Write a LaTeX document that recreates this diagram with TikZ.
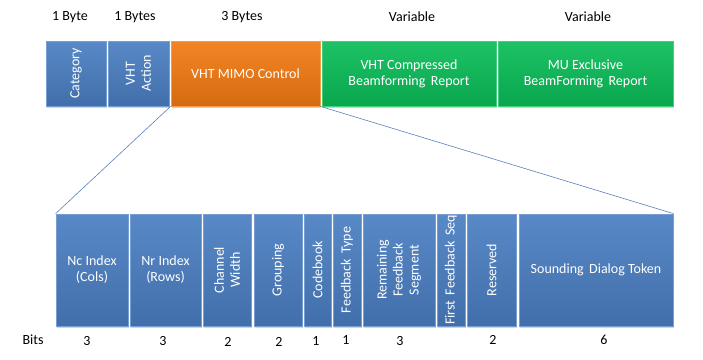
\documentclass[tikz,border=0pt]{standalone}
\usepackage{fontspec}
\setmainfont{Carlito}
\usetikzlibrary{shadows}

\definecolor{fblue}{HTML}{4A7EC2}
\definecolor{forange}{HTML}{F27A12}
\definecolor{fgreen}{HTML}{0ABD58}
\definecolor{linkblue}{HTML}{5A7FB8}

\begin{document}
\begin{tikzpicture}[x=1pt, y=-1pt, font=\fontsize{14}{16}\selectfont,
  field/.style={draw=#1!75!white, line width=0.8pt, inner sep=0pt,
    top color=#1!92!white, bottom color=#1!88!black,
    drop shadow={shadow xshift=1.2pt, shadow yshift=-1.5pt, opacity=0.35},
    text=white, align=center},
  top/.style={minimum height=65pt},
  low/.style={minimum height=112pt},
  vtext/.style={rotate=90, text=white, align=center, inner sep=0pt},
  size/.style={text=black}]
  \useasboundingbox (0,0) rectangle (703,359);

  % top row: action frame
  \node[field=fblue, top, minimum width=60pt] (cat) at (76,73.5) {};
  \node[field=fblue, top, minimum width=61pt] (act) at (138.5,73.5) {};
  \node[field=forange, top, minimum width=149pt] (mimo) at (245.5,73.5) {VHT MIMO Control};
  \node[field=fgreen, top, minimum width=174pt] (cbr) at (409,73.5) {VHT Compressed\\Beamforming\, Report};
  \node[field=fgreen, top, minimum width=175pt] (mur) at (585.5,73.5) {MU Exclusive\\BeamForming\, Report};
  \node[vtext] (catt) at (cat) {Category};
  \node[vtext] (actt) at (act) {VHT\\Action};

  \node[size] (bcat) at (70,17) {1 Byte};
  \node[size] (bact) at (135,17) {1 Bytes};
  \node[size] (bmimo) at (242,17) {3 Bytes};
  \node[size] (bcbr) at (412,17) {Variable};
  \node[size] (bmur) at (588,17) {Variable};

  % bottom row: MIMO control subfields
  \node[field=fblue, low, minimum width=72pt] (nc) at (92,270) {Nc Index\\(Cols)};
  \node[field=fblue, low, minimum width=71pt] (nr) at (165.5,270) {Nr Index\\(Rows)};
  \node[field=fblue, low, minimum width=48pt] (cw) at (227,270) {};
  \node[field=fblue, low, minimum width=48pt] (grp) at (278,270) {};
  \node[field=fblue, low, minimum width=27pt] (cb) at (317.5,270) {};
  \node[field=fblue, low, minimum width=28pt] (ft) at (347,270) {};
  \node[field=fblue, low, minimum width=72pt] (rem) at (399,270) {};
  \node[field=fblue, low, minimum width=28pt] (ffs) at (451,270) {};
  \node[field=fblue, low, minimum width=49pt] (res) at (491.5,270) {};
  \node[field=fblue, low, minimum width=154pt] (sdt) at (596,270) {Sounding\, Dialog Token};

  \node[vtext] (cwt) at (cw) {Channel\\Width};
  \node[vtext] (grpt) at (grp) {Grouping};
  \node[vtext] (cbt) at (cb) {Codebook};
  \node[vtext] (ftt) at (ft) {Feedback\, Type};
  \node[vtext] (remt) at (rem) {Remaining\\Feedback\\Segment};
  \node[vtext] (ffst) at (ffs) {First\, Feedback\, Seq};
  \node[vtext] (rest) at (res) {Reserved};

  \node[size] (bits) at (33,340) {Bits};
  \node[size] (bnc) at (87,341) {3};
  \node[size] (bnr) at (163,341) {3};
  \node[size] (bcw) at (228,342) {2};
  \node[size] (bgrp) at (279,342) {2};
  \node[size] (bcb) at (316,341) {1};
  \node[size] (bft) at (346,340) {1};
  \node[size] (brem) at (400,341) {3};
  \node[size] (bres) at (493,340) {2};
  \node[size] (bsdt) at (604,340) {6};

  \draw[linkblue, line width=0.6pt] (mimo.south west) -- (nc.north west);
  \draw[linkblue, line width=0.6pt] (mimo.south east) -- (sdt.north east);
\end{tikzpicture}
\end{document}
